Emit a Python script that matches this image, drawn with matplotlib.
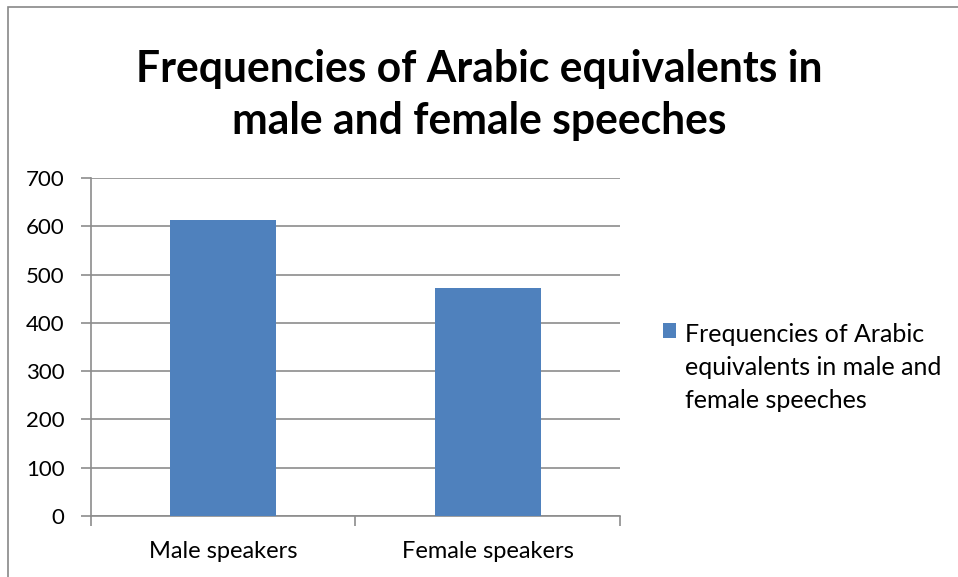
import matplotlib.pyplot as plt
from matplotlib.patches import Rectangle

categories = ["Male speakers", "Female speakers"]
values = [612, 473]
series_name = "Frequencies of Arabic\nequivalents in male and\nfemale speeches"
title = "Frequencies of Arabic equivalents in\nmale and female speeches"

plt.rcParams['font.family'] = ['Lato', 'DejaVu Sans']

fig = plt.figure(figsize=(9.58, 5.77), dpi=100)
ax = fig.add_axes([0.095, 0.1057, 0.552, 0.5858])

# chart border (Excel style)
fig.patches.append(Rectangle((8 / 958, -0.1), 1.2, 1 - 7 / 577 + 0.1,
                             transform=fig.transFigure, fill=False,
                             edgecolor="#888888", linewidth=1.2))

ax.bar(categories, values, width=0.4, color="#4f81bd", label=series_name, zorder=3)

ax.set_ylim(0, 700)
ax.set_xlim(-0.5, 1.5)
ax.set_yticks(range(0, 701, 100))
ax.yaxis.grid(True, color="#8c8c8c", linewidth=1.2, zorder=0)

for s in ["top", "right"]:
    ax.spines[s].set_visible(False)
ax.spines["left"].set_color("#8c8c8c")
ax.spines["bottom"].set_color("#8c8c8c")
ax.spines["left"].set_linewidth(1.2)
ax.spines["bottom"].set_linewidth(1.2)

ax.tick_params(axis="y", length=7, color="#8c8c8c", width=1.2, labelsize=16, pad=12)
ax.tick_params(axis="x", length=0, labelsize=17, pad=18)
ax.set_xticks([-0.5, 0.5, 1.5], minor=True)
ax.tick_params(axis="x", which="minor", length=7, color="#8c8c8c", width=1.2)

fig.text(0.5, 0.836, title, ha="center", va="center", fontsize=30.7,
         fontweight="bold", linespacing=1.36)

leg = ax.legend(loc="center left", bbox_to_anchor=(1.062, 0.44), frameon=False,
                fontsize=18, handlelength=0.55, handleheight=0.55,
                handletextpad=0.35, borderaxespad=0)
for t in leg.get_texts():
    t.set_linespacing(1.52)
# put the square next to the first line, like Excel does
for col in leg._legend_handle_box.get_children():
    for item in col.get_children():
        item.align = "top"

fig.savefig("out.png", dpi=100)
